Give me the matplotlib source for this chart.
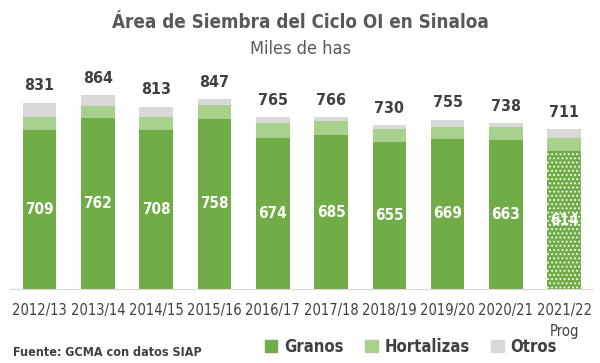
import matplotlib
matplotlib.use("Agg")
import matplotlib.pyplot as plt
from matplotlib.patches import Patch
import numpy as np

ciclos = ["2012/13", "2013/14", "2014/15", "2015/16", "2016/17",
          "2017/18", "2018/19", "2019/20", "2020/21", "2021/22\nProg"]
granos = [709, 762, 708, 758, 674, 685, 655, 669, 663, 614]
hortalizas = [57, 55, 59, 61, 64, 62, 59, 52, 57, 59]
totales = [831, 864, 813, 847, 765, 766, 730, 755, 738, 711]
otros = [t - g - h for t, g, h in zip(totales, granos, hortalizas)]

verde = "#70AD47"
verde_claro = "#A9D18E"
gris = "#D9D9D9"
texto = "#404040"

plt.rcParams["font.family"] = ["DejaVu Sans"]
plt.rcParams["font.stretch"] = "condensed"
plt.rcParams["hatch.linewidth"] = 0.8

fig = plt.figure(figsize=(6, 3.63), dpi=100)
ax = fig.add_axes([0.0173, 0.2039, 0.9717, 0.631])

x = np.arange(len(ciclos))
ancho = 0.575

# granos: el ultimo ciclo es programado (punteado)
ax.bar(x[:-1], granos[:-1], ancho, color=verde, linewidth=0)
ax.bar(x[-1], granos[-1], ancho, color=verde, edgecolor="white",
       hatch="....", linewidth=0)
ax.bar(x, hortalizas, ancho, bottom=granos, color=verde_claro, linewidth=0)
base_otros = [g + h for g, h in zip(granos, hortalizas)]
ax.bar(x, otros, ancho, bottom=base_otros, color=gris, linewidth=0)

for i in range(len(x)):
    ax.text(x[i], granos[i] / 2, str(granos[i]), ha="center", va="center",
            color="white", fontsize=11, fontweight="bold")
    ax.text(x[i], totales[i] + 42, str(totales[i]), ha="center", va="bottom",
            color=texto, fontsize=11.5, fontweight="bold")

ax.set_xlim(-0.5, len(x) - 0.5)
ax.set_ylim(0, 1021)
ax.set_xticks(x)
ax.set_xticklabels(ciclos, fontsize=10.5, color=texto, va="top",
                   linespacing=1.5)
ax.tick_params(axis="x", length=0, pad=10)
ax.set_yticks([])
for s in ["top", "right", "left"]:
    ax.spines[s].set_visible(False)
ax.spines["bottom"].set_color("#D9D9D9")

fig.text(0.5, 0.937, "Área de Siembra del Ciclo OI en Sinaloa", ha="center",
         va="center", fontsize=13.5, fontweight="bold", color="#595959")
fig.text(0.5, 0.865, "Miles de has", ha="center", va="center",
         fontsize=13, color="#595959")
fig.text(0.021, 0.03, "Fuente: GCMA con datos SIAP", ha="left", va="center",
         fontsize=9, fontweight="bold", color=texto)

handles = [Patch(color=verde, label="Granos"),
           Patch(color=verde_claro, label="Hortalizas"),
           Patch(color=gris, label="Otros")]
fig.legend(handles=handles, loc="center", bbox_to_anchor=(0.685, 0.044),
           ncol=3, frameon=False, handlelength=0.75, handleheight=0.75,
           handletextpad=0.4, columnspacing=1.3,
           prop={"size": 12, "weight": "bold", "stretch": "condensed"},
           labelcolor=texto)

fig.savefig("out.png", dpi=100)
